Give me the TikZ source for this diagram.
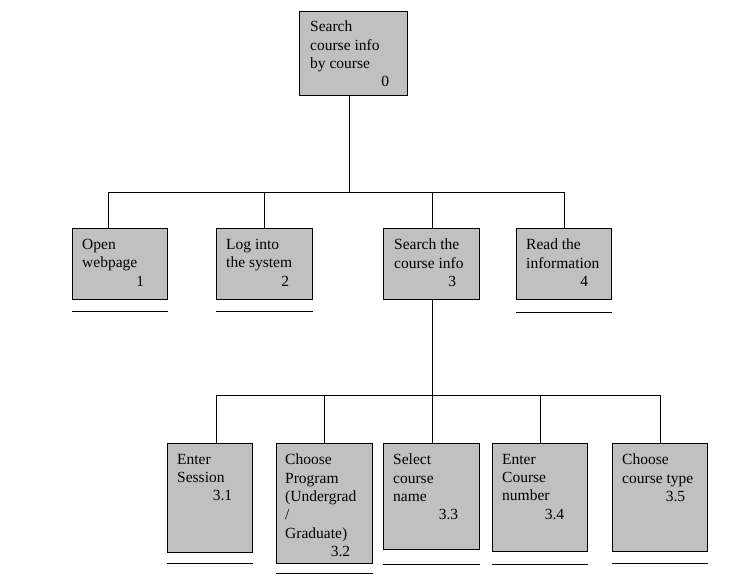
\documentclass[tikz,border=0pt]{standalone}
\usepackage{fontspec}
\setmainfont{Liberation Serif}
\usepackage{tikz}
\usetikzlibrary{positioning, calc}
\definecolor{boxgray}{RGB}{192,192,192}
\tikzstyle{task}=[%
      rectangle, draw=black, line width=0.8pt, fill=boxgray,
      anchor=north west, inner sep=0pt
]
\tikzstyle{txt}=[%
      anchor=north west, inner sep=0pt, align=left,
      font=\fontsize{15.5}{18.3}\selectfont
]
\tikzstyle{wire}=[draw=black, line width=0.8pt]
\newcommand{\tasknum}[2]{\makebox[#1][r]{#2}}

\begin{document}
\begin{tikzpicture}[x=1pt, y=1pt]
    \useasboundingbox (0,0) rectangle (744,-588);

    % top and first level
    \node[task, minimum width=108pt, minimum height=84pt] (b0) at (299,-11)  {};
    \node[task, minimum width=95pt,  minimum height=71pt] (b1) at (72,-228)  {};
    \node[task, minimum width=96pt,  minimum height=71pt] (b2) at (216,-228) {};
    \node[task, minimum width=96pt,  minimum height=71pt] (b3) at (383,-228) {};
    \node[task, minimum width=95pt,  minimum height=71pt] (b4) at (516,-228) {};

    % second level
    \node[task, minimum width=85pt, minimum height=109pt] (b31) at (167,-443) {};
    \node[task, minimum width=96pt, minimum height=120pt] (b32) at (276,-443) {};
    \node[task, minimum width=96pt, minimum height=106pt] (b33) at (383,-443) {};
    \node[task, minimum width=95pt, minimum height=108pt] (b34) at (492,-443) {};
    \node[task, minimum width=95pt, minimum height=108pt] (b35) at (612,-443) {};

    \node[txt] (t0)  at ([shift={(11pt,-10pt)}]b0.north west)  {Search\\course info\\by course\\\tasknum{79pt}{0}};
    \node[txt] (t1)  at ([shift={(10pt,-11pt)}]b1.north west)  {Open\\webpage\\\tasknum{62pt}{1}};
    \node[txt] (t2)  at ([shift={(10pt,-11pt)}]b2.north west)  {Log into\\the system\\\tasknum{63pt}{2}};
    \node[txt] (t3)  at ([shift={(11pt,-11pt)}]b3.north west)  {Search the\\course info\\\tasknum{62pt}{3}};
    \node[txt] (t4)  at ([shift={(10pt,-11pt)}]b4.north west)  {Read the\\information\\\tasknum{62pt}{4}};
    \node[txt] (t31) at ([shift={(10pt,-11pt)}]b31.north west) {Enter\\Session\\\tasknum{55pt}{3.1}};
    \node[txt] (t32) at ([shift={(9pt,-11pt)}]b32.north west)  {Choose\\Program\\(Undergrad\\/\\Graduate)\\\tasknum{65pt}{3.2}};
    \node[txt] (t33) at ([shift={(10pt,-11pt)}]b33.north west) {Select\\course\\name\\\tasknum{65pt}{3.3}};
    \node[txt] (t34) at ([shift={(10pt,-11pt)}]b34.north west) {Enter\\Course\\number\\\tasknum{62pt}{3.4}};
    \node[txt] (t35) at ([shift={(10pt,-11pt)}]b35.north west) {Choose\\course type\\\tasknum{63pt}{3.5}};

    % connectors
    \draw[wire] ([xshift=-4pt]b0.south) -- ++(0,-97) coordinate (bus0);
    \foreach \n/\dx in {b1/-11.5, b2/0, b3/1, b4/0}
        \draw[wire] (bus0) -| ([xshift=\dx pt]\n.north);
    \draw[wire] ([xshift=1pt]b3.south) -- ++(0,-96) coordinate (bus3);
    \foreach \n/\dx in {b31/6.5, b32/0, b33/0.5, b34/0.5, b35/0.5}
        \draw[wire] (bus3) -| ([xshift=\dx pt]\n.north);

    % underlines
    \foreach \n/\gap in {b1/12, b2/12, b4/13, b31/11, b32/10, b33/15, b34/13, b35/12}
        \draw[wire] ([yshift=-\gap pt]\n.south west) -- ([yshift=-\gap pt]\n.south east);
\end{tikzpicture}
\end{document}
